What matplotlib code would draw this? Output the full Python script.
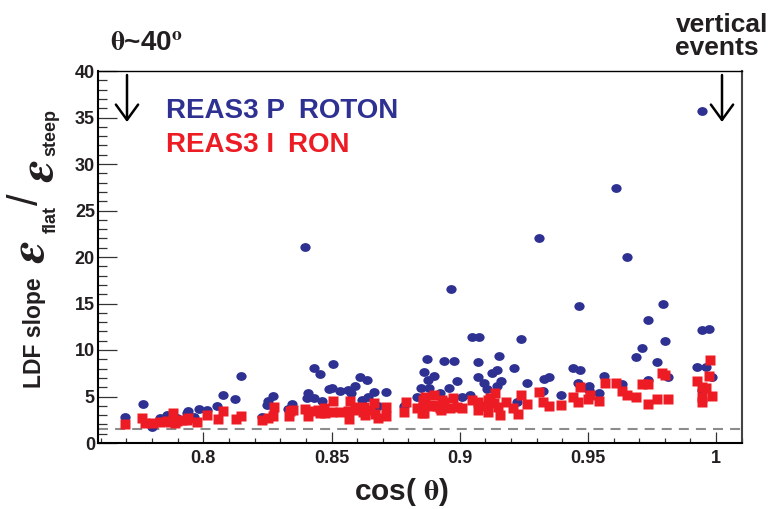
import matplotlib
matplotlib.use("Agg")
import matplotlib.pyplot as plt
from matplotlib.path import Path
from matplotlib.transforms import Affine2D

plt.rcParams['font.family'] = ['Liberation Sans', 'DejaVu Sans']
plt.rcParams['font.weight'] = 'bold'
plt.rcParams['mathtext.fontset'] = 'stix'

# cos(theta) and LDF slope ratio for the proton showers
proton_cos = [0.7695, 0.7766, 0.7799, 0.7831, 0.7857, 0.7896, 0.7935, 0.7941, 0.7964, 0.7985,
              0.8013, 0.8055, 0.8076, 0.8125, 0.8146, 0.8228, 0.8247, 0.8254, 0.8270, 0.8330,
              0.8345, 0.8397, 0.8403, 0.8407, 0.8432, 0.8433, 0.8455, 0.8462, 0.8490, 0.8500,
              0.8507, 0.8533, 0.8566, 0.8576, 0.8592, 0.8611, 0.8618, 0.8637, 0.8644, 0.8667,
              0.8683, 0.8711, 0.8784, 0.8832, 0.8849, 0.8862, 0.8871, 0.8878, 0.8880, 0.8901,
              0.8925, 0.8938, 0.8957, 0.8967, 0.8977, 0.8991, 0.9010, 0.9040, 0.9049, 0.9073,
              0.9073, 0.9075, 0.9095, 0.9105, 0.9127, 0.9144, 0.9147, 0.9152, 0.9162, 0.9211,
              0.9225, 0.9240, 0.9262, 0.9309, 0.9326, 0.9329, 0.9349, 0.9395, 0.9441, 0.9460,
              0.9465, 0.9469, 0.9503, 0.9506, 0.9543, 0.9564, 0.9608, 0.9634, 0.9654, 0.9688,
              0.9712, 0.9733, 0.9735, 0.9771, 0.9794, 0.9801, 0.9812, 0.9924, 0.9944, 0.9946,
              0.9946, 0.9960, 0.9973, 0.9985]
proton_ratio = [2.8, 4.2, 1.7, 2.7, 3.0, 2.7, 3.2, 3.4, 2.8, 3.7,
                3.5, 4.0, 5.2, 4.7, 7.2, 2.8, 4.1, 4.5, 5.1, 3.7,
                4.2, 21.1, 4.8, 5.4, 8.1, 4.8, 7.4, 4.5, 5.8, 5.9,
                8.5, 5.6, 5.7, 5.4, 6.1, 7.1, 4.6, 6.8, 4.9, 5.5,
                4.0, 5.5, 4.0, 5.0, 5.9, 7.6, 9.0, 6.8, 5.9, 7.2,
                5.4, 8.85, 5.9, 16.6, 8.85, 6.7, 5.0, 5.2, 11.35, 8.7,
                7.05, 11.35, 6.4, 5.8, 7.5, 7.9, 6.1, 9.4, 6.7, 8.05,
                4.4, 11.2, 6.45, 22.0, 5.6, 6.9, 7.1, 5.2, 8.05, 6.4,
                14.7, 7.9, 5.75, 6.15, 5.35, 7.2, 27.4, 6.3, 20.0, 9.3,
                10.2, 13.2, 6.8, 8.75, 14.9, 11.0, 7.15, 8.2, 5.7, 12.2,
                35.7, 8.2, 12.3, 7.15]

# cos(theta) and LDF slope ratio for the iron showers
iron_cos = [0.7695, 0.7760, 0.7773, 0.7805, 0.7831, 0.7857, 0.7870, 0.7883, 0.7890, 0.7899,
            0.7916, 0.7935, 0.7941, 0.7974, 0.8015, 0.8058, 0.8076, 0.8126, 0.8146, 0.8230,
            0.8254, 0.8270, 0.8275, 0.8333, 0.8340, 0.8351, 0.8397, 0.8410, 0.8429, 0.8449,
            0.8455, 0.8472, 0.8476, 0.8505, 0.8500, 0.8533, 0.8566, 0.8568, 0.8571, 0.8592,
            0.8600, 0.8622, 0.8628, 0.8631, 0.8650, 0.8665, 0.8668, 0.8683, 0.8711, 0.8711,
            0.8782, 0.8790, 0.8832, 0.8852, 0.8858, 0.8858, 0.8862, 0.8865, 0.8891, 0.8897,
            0.8901, 0.8910, 0.8923, 0.8927, 0.8930, 0.8937, 0.8962, 0.8975, 0.8988, 0.9010,
            0.9047, 0.9070, 0.9073, 0.9101, 0.9111, 0.9112, 0.9118, 0.9135, 0.9138, 0.9151,
            0.9157, 0.9179, 0.9209, 0.9226, 0.9239, 0.9261, 0.9309, 0.9326, 0.9350, 0.9395,
            0.9443, 0.9463, 0.9468, 0.9502, 0.9508, 0.9543, 0.9567, 0.9610, 0.9632, 0.9654,
            0.9687, 0.9713, 0.9733, 0.9736, 0.9771, 0.9790, 0.9801, 0.9811, 0.9924, 0.9944,
            0.9946, 0.9946, 0.9960, 0.9974, 0.9976, 0.9986]
iron_ratio = [2.05, 2.65, 2.15, 2.2, 2.3, 2.4, 2.3, 3.25, 2.2, 2.4,
              2.5, 2.5, 2.65, 2.3, 3.0, 2.6, 3.45, 2.55, 2.85, 2.5,
              2.65, 2.85, 3.9, 2.85, 3.4, 3.5, 3.7, 2.85, 3.4, 3.55,
              3.2, 3.75, 3.25, 4.5, 3.3, 3.35, 3.4, 2.55, 4.55, 3.9,
              3.55, 3.3, 3.9, 3.0, 3.56, 4.28, 3.1, 2.65, 3.85, 2.93,
              3.3, 4.46, 3.74, 3.2, 4.64, 3.92, 3.27, 5.0, 4.1, 4.0,
              5.18, 4.0, 3.74, 3.56, 4.64, 4.46, 3.74, 4.82, 3.92, 3.74,
              4.64, 4.46, 3.56, 4.0, 4.64, 3.38, 4.82, 4.35, 5.43, 3.85,
              3.02, 4.46, 3.74, 3.09, 5.18, 4.21, 5.47, 4.46, 4.0, 4.07,
              4.93, 4.46, 6.07, 4.71, 5.18, 4.53, 6.44, 6.47, 5.64, 5.21,
              5.0, 6.36, 4.21, 6.36, 4.78, 7.58, 7.33, 4.78, 6.72, 4.42,
              6.0, 5.0, 5.9, 7.23, 8.88, 5.07]

x_ticks = [0.8, 0.85, 0.9, 0.95, 1.0]
x_tick_labels = ['0.8', '0.85', '0.9', '0.95', '1']
y_ticks = [0, 5, 10, 15, 20, 25, 30, 35, 40]
threshold = 1.5

BLUE = '#2E3192'
RED = '#ED1C24'
INK = '#231F20'

W, H = 779, 509
fig = plt.figure(figsize=(W / 100, H / 100), dpi=100)
ax = fig.add_axes([97.7 / W, 1 - 443 / H, 644 / W, 372 / H])


def fx(px):
    return px / W


def fy(py):
    return 1 - py / H


# slightly wide ellipse for the proton markers
ellipse = Path.unit_circle().transformed(Affine2D().scale(1.0, 0.86))

ax.axhline(threshold, color='#8c8c8c', lw=1.5, dashes=(4.8, 3.4), zorder=1)
ax.plot(proton_cos, proton_ratio, ls='none', marker=ellipse, ms=7.4,
        mfc=BLUE, mec='none', zorder=2)
ax.plot(iron_cos, iron_ratio, ls='none', marker='s', ms=6.9,
        mfc=RED, mec='none', zorder=3)

ax.set_xlim(0.7588, 1.0100)
ax.set_ylim(0, 40)
ax.set_xticks(x_ticks)
ax.set_xticklabels(x_tick_labels)
ax.set_xticks([0.76 + 0.01 * i for i in range(26)], minor=True)
ax.set_yticks(y_ticks)
ax.set_yticklabels([str(v) for v in y_ticks])
ax.set_yticks(range(0, 41), minor=True)

ax.tick_params(axis='both', which='both', direction='in', top=False, right=False,
               colors='#333333', labelcolor=INK, labelsize=13, width=0.9)
ax.tick_params(axis='y', which='major', length=13.5, pad=2)
ax.tick_params(axis='y', which='minor', length=6.5)
ax.tick_params(axis='x', which='major', length=8, pad=5)
ax.tick_params(axis='x', which='minor', length=3.6)
for lab in ax.get_xticklabels() + ax.get_yticklabels():
    lab.set_fontweight('bold')

ax.spines['left'].set_linewidth(1.5)
ax.spines['bottom'].set_linewidth(1.5)
ax.spines['top'].set_linewidth(1.0)
ax.spines['right'].set_linewidth(1.5)
ax.spines['right'].set_color('#444444')

# legend labels
fig.text(fx(166), fy(118.5), 'REAS3 P\u2002ROTON', color=BLUE, fontsize=20,
         fontweight='bold', va='baseline', ha='left')
fig.text(fx(166), fy(151.5), 'REAS3 I\u2002RON', color=RED, fontsize=20,
         fontweight='bold', va='baseline', ha='left')

# annotations above the frame
fig.text(fx(110), fy(51), r'$\mathrm{\theta}$~40$^{\mathrm{o}}$', color=INK,
         fontsize=20, fontweight='bold', va='baseline', ha='left')
fig.text(fx(676), fy(32), 'vertical', color=INK, fontsize=19, fontweight='bold',
         va='baseline', ha='left')
fig.text(fx(675), fy(55), 'events', color=INK, fontsize=19, fontweight='bold',
         va='baseline', ha='left')

arrow_style = dict(arrowstyle='->,head_length=1.1,head_width=0.8', lw=1.8,
                   color='black', shrinkA=0, shrinkB=0)
for xa in (127, 722):
    ax.annotate('', xy=(fx(xa), fy(122)), xytext=(fx(xa), fy(75)),
                xycoords='figure fraction', textcoords='figure fraction',
                arrowprops=arrow_style, annotation_clip=False)

# x axis title
fig.text(fx(354), fy(500), r'cos( $\mathrm{\theta}$)', color=INK, fontsize=21.5,
         fontweight='bold', va='baseline', ha='left')

# y axis title built from pieces
fig.text(fx(35), fy(388), 'LDF slope', color=INK, fontsize=16.5, fontweight='bold',
         rotation=90, ha='center', va='bottom')
fig.text(fx(31), fy(263), r'$\varepsilon$', color=INK, fontsize=36,
         rotation=90, ha='center', va='bottom')
fig.text(fx(51), fy(233), 'flat', color=INK, fontsize=13, fontweight='bold',
         rotation=90, ha='center', va='bottom')
fig.text(fx(27), fy(205), '/', color=INK, fontsize=30, fontweight='normal',
         rotation=90, ha='center', va='bottom')
fig.text(fx(40), fy(182), r'$\varepsilon$', color=INK, fontsize=36,
         rotation=90, ha='center', va='bottom')
fig.text(fx(51), fy(156), 'steep', color=INK, fontsize=13, fontweight='bold',
         rotation=90, ha='center', va='bottom')

fig.savefig('out.png', dpi=100)
